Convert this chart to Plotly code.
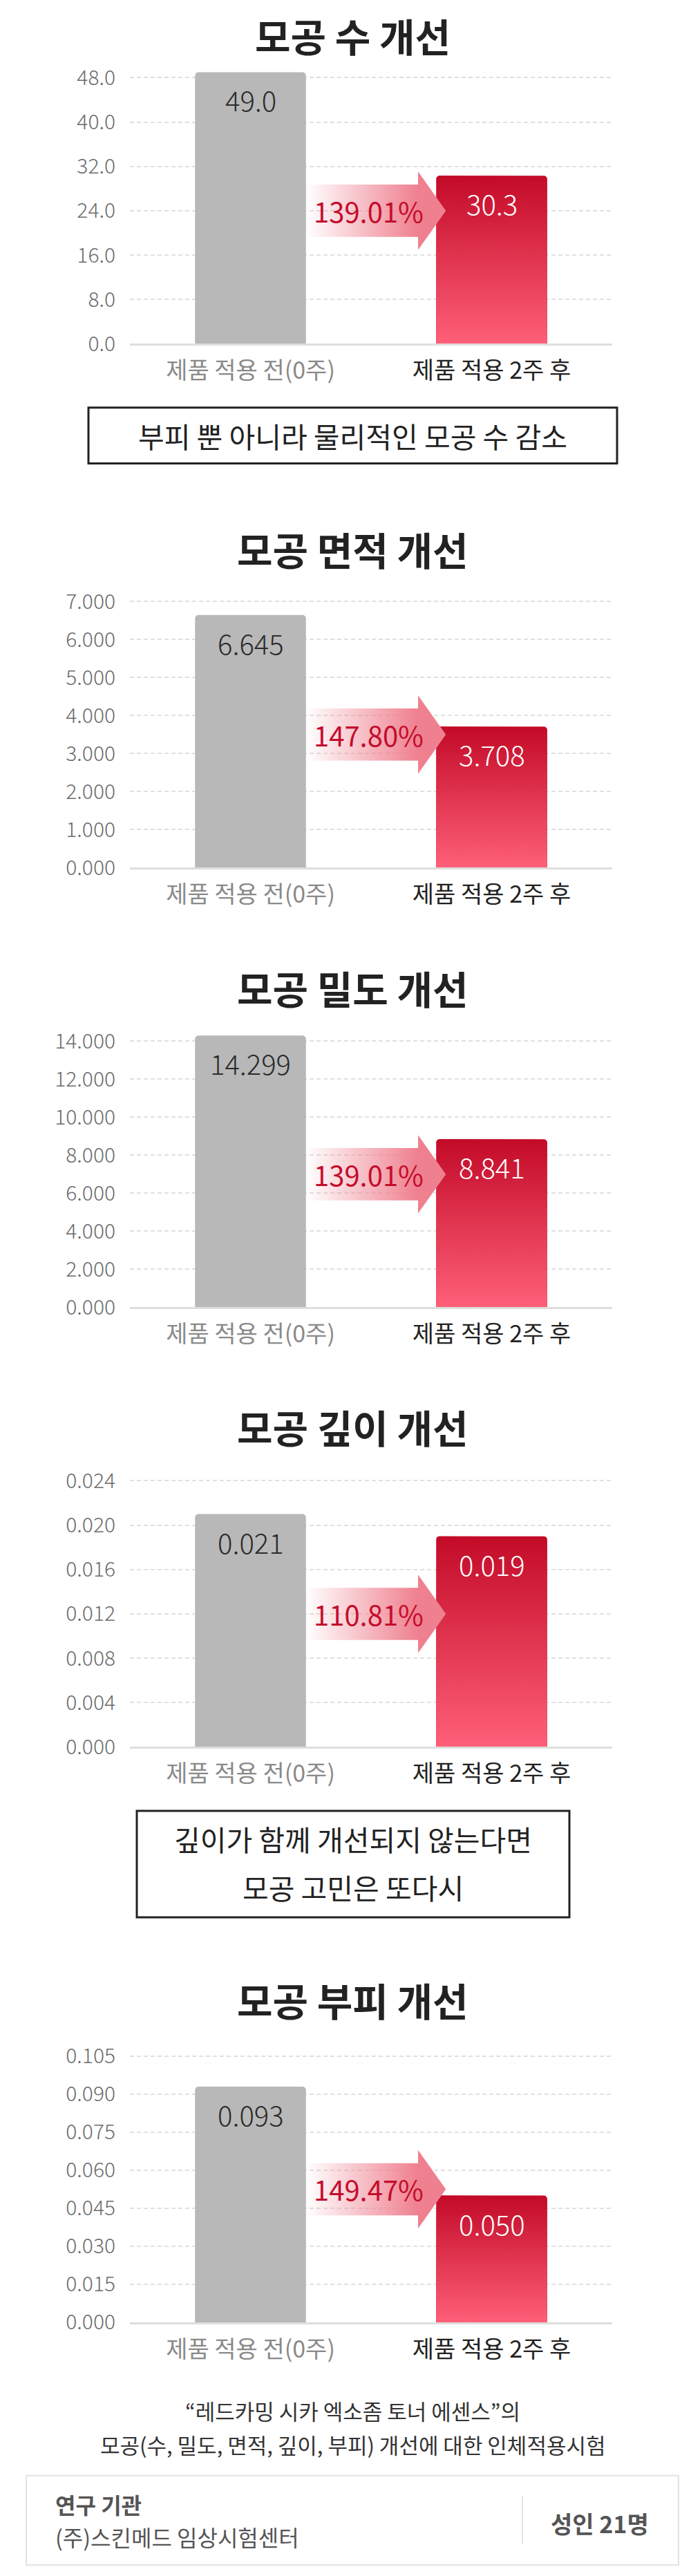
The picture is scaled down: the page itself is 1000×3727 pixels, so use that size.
import math
import plotly.graph_objects as go

W, H = 1000, 3727
FONT = "Noto Sans CJK KR, Noto Sans, sans-serif"

# ---------------- data ----------------
titles = ["모공 수 개선", "모공 면적 개선", "모공 밀도 개선", "모공 깊이 개선", "모공 부피 개선"]
categories = ["제품 적용 전(0주)", "제품 적용 2주 후"]
before_values = [49.0, 6.645, 14.299, 0.021, 0.093]
after_values = [30.3, 3.708, 8.841, 0.019, 0.050]
improvement_labels = ["139.01%", "147.80%", "139.01%", "110.81%", "149.47%"]
tick_tops = [48.0, 7.0, 14.0, 0.024, 0.105]
tick_steps = [8.0, 1.0, 2.0, 0.004, 0.015]
tick_decimals = [1, 3, 3, 3, 3]
callout_1 = "부피 뿐 아니라 물리적인 모공 수 감소"
callout_2 = ["깊이가 함께 개선되지 않는다면", "모공 고민은 또다시"]
footnote_lines = ["“레드카밍 시카 엑소좀 토너 에센스”의",
                  "모공(수, 밀도, 면적, 깊이, 부피) 개선에 대한 인체적용시험"]
info_label = "연구 기관"
info_org = "(주)스킨메드 임상시험센터"
info_subjects = "성인 21명"

# ---------------- layout (pixels) ----------------
baselines = [492, 1254, 1893.5, 2533, 3370]
title_ys = [None, 790, 1428, 2067, 2900]   # first title is pinned to the top edge
SPAN = 387.0          # pixel height from 0 to top tick
HEAD = 1.08           # range headroom over top tick
X_LEFT, X_RIGHT = 180, 878
BAR_W = 0.46
CAT_COLORS = ["#8a8a8a", "#222222"]

GRAY = "#b8b8b8"
RED_TOP = "#c30b28"
RED_BOT = "#ff6079"
PINK = "239,128,143"


def py(px):
    return 1 - px / H


def px_x(px):
    return px / W


fig = go.Figure()
annotations = []
shapes = []
layout_axes = {}

for i in range(5):
    n = i + 1
    xa, ya = (f"x{n}", f"y{n}") if n > 1 else ("x", "y")
    xkey, ykey = (f"xaxis{n}", f"yaxis{n}") if n > 1 else ("xaxis", "yaxis")
    top = tick_tops[i]
    step = tick_steps[i]
    dec = tick_decimals[i]
    b, a = before_values[i], after_values[i]
    base = baselines[i]
    unit_px = SPAN / top

    # bars
    fig.add_trace(go.Bar(
        x=[0, 1], y=[b, a], width=BAR_W,
        marker=dict(color=[GRAY, RED_TOP], cornerradius=5, line=dict(width=0)),
        xaxis=xa, yaxis=ya, hoverinfo="skip", showlegend=False,
    ))

    # gradient overlay on red bar (computed from the value and bar width)
    x0, x1 = 1 - BAR_W / 2, 1 + BAR_W / 2
    rx = 5 / ((X_RIGHT - X_LEFT) / 2)
    ry = 5 / unit_px
    xs, ys = [x0, x0], [0, a - ry]
    for k in range(1, 7):
        t = math.pi - k * (math.pi / 2) / 6
        xs.append(x0 + rx + rx * math.cos(t))
        ys.append(a - ry + ry * math.sin(t))
    xs.append(x1 - rx); ys.append(a)
    for k in range(1, 7):
        t = math.pi / 2 - k * (math.pi / 2) / 6
        xs.append(x1 - rx + rx * math.cos(t))
        ys.append(a - ry + ry * math.sin(t))
    xs += [x1, x0]; ys += [0, 0]
    fig.add_trace(go.Scatter(
        x=xs, y=ys, mode="lines", fill="toself",
        line=dict(width=0, color="rgba(0,0,0,0)"),
        fillgradient=dict(type="vertical", start=0, stop=a,
                          colorscale=[[0, RED_BOT], [1, RED_TOP]]),
        xaxis=xa, yaxis=ya, hoverinfo="skip", showlegend=False,
    ))

    # arrow
    c = top / 2
    bh = 38 / unit_px
    hh = 57 / unit_px
    ax0 = BAR_W / 2
    hx = 0.695
    tip = 0.81
    fig.add_trace(go.Scatter(
        x=[ax0, hx, hx, tip, hx, hx, ax0, ax0],
        y=[c - bh, c - bh, c - hh, c, c + hh, c + bh, c + bh, c - bh],
        mode="lines", fill="toself",
        line=dict(width=0, color="rgba(0,0,0,0)"),
        fillgradient=dict(type="horizontal", start=ax0, stop=hx,
                          colorscale=[[0, f"rgba({PINK},0)"], [1, f"rgba({PINK},1)"]]),
        xaxis=xa, yaxis=ya, hoverinfo="skip", showlegend=False,
    ))

    annotations.append(dict(
        x=0.49, y=c, xref=xa, yref=ya, text=improvement_labels[i], showarrow=False,
        font=dict(family=FONT, size=40, color="#c40d2c"), xanchor="center", yanchor="middle",
    ))

    fmt = f"{{:.{dec}f}}"
    annotations.append(dict(
        x=0, y=b, xref=xa, yref=ya, text=fmt.format(b), showarrow=False, yshift=-40,
        font=dict(family=FONT, size=40, color="#2b2b2b", weight=300),
        xanchor="center", yanchor="middle",
    ))
    annotations.append(dict(
        x=1, y=a, xref=xa, yref=ya, text=fmt.format(a), showarrow=False, yshift=-40,
        font=dict(family=FONT, size=40, color="#ffffff", weight=300),
        xanchor="center", yanchor="middle",
    ))

    # title
    if title_ys[i] is None:
        annotations.append(dict(
            x=0.502, y=1, xref="paper", yref="paper", text=f"<b>{titles[i]}</b>",
            showarrow=False, font=dict(family=FONT, size=56, color="#222222"),
            xanchor="center", yanchor="top",
        ))
    else:
        annotations.append(dict(
            x=0.502, y=py(title_ys[i]), xref="paper", yref="paper", text=f"<b>{titles[i]}</b>",
            showarrow=False, font=dict(family=FONT, size=56, color="#222222"),
            xanchor="center", yanchor="middle",
        ))

    nt = int(round(top / step))
    tickvals = [round(k * step, 6) for k in range(nt + 1)]
    ticktext = [fmt.format(v) for v in tickvals]

    layout_axes[xkey] = dict(
        domain=[px_x(X_LEFT), px_x(X_RIGHT)], anchor=ya, range=[-0.5, 1.5],
        tickvals=[0, 1],
        ticktext=[f"<span style='color:{CAT_COLORS[k]}'>{categories[k]}</span>" for k in range(2)],
        tickfont=dict(family=FONT, size=34), ticks="", ticklabelstandoff=7,
        showline=True, linecolor="#dedede", linewidth=3, showgrid=False, zeroline=False,
        fixedrange=True,
    )
    layout_axes[ykey] = dict(
        domain=[py(base), py(base - SPAN * HEAD)], anchor=xa, range=[0, top * HEAD],
        tickvals=tickvals, ticktext=ticktext,
        tickfont=dict(family=FONT, size=30, color="#6b6b6b", weight=300),
        ticks="", ticklabelstandoff=20,
        showgrid=True, gridcolor="#e0e0e0", gridwidth=2, griddash="6px,4px",
        zeroline=False, showline=False, fixedrange=True,
    )

# callout boxes
shapes.append(dict(type="rect", xref="paper", yref="paper",
                   x0=px_x(120), x1=px_x(885), y0=py(666), y1=py(585),
                   line=dict(color="#222222", width=3)))
annotations.append(dict(x=px_x(502), y=py(625), xref="paper", yref="paper", text=callout_1,
                        showarrow=False, font=dict(family=FONT, size=41, color="#222222"),
                        xanchor="center", yanchor="middle"))
shapes.append(dict(type="rect", xref="paper", yref="paper",
                   x0=px_x(190), x1=px_x(816), y0=py(2781), y1=py(2626),
                   line=dict(color="#222222", width=3)))
for txt, yy in zip(callout_2, [2666, 2737]):
    annotations.append(dict(x=px_x(503), y=py(yy), xref="paper", yref="paper", text=txt,
                            showarrow=False, font=dict(family=FONT, size=41, color="#222222"),
                            xanchor="center", yanchor="middle"))

# footnote
for txt, yy in zip(footnote_lines, [3498, 3548]):
    annotations.append(dict(x=px_x(502), y=py(yy), xref="paper", yref="paper", text=txt,
                            showarrow=False, font=dict(family=FONT, size=31, color="#333333"),
                            xanchor="center", yanchor="middle"))

# info box
shapes.append(dict(type="rect", xref="paper", yref="paper",
                   x0=px_x(30), x1=px_x(974), y0=py(3723), y1=py(3593),
                   line=dict(color="#e2e2e2", width=2)))
shapes.append(dict(type="line", xref="paper", yref="paper",
                   x0=px_x(748), x1=px_x(748), y0=py(3692), y1=py(3623),
                   line=dict(color="#dddddd", width=1.5)))
annotations.append(dict(x=px_x(70), y=py(3635), xref="paper", yref="paper", text=f"<b>{info_label}</b>",
                        showarrow=False, font=dict(family=FONT, size=32, color="#555555"),
                        xanchor="left", yanchor="middle"))
annotations.append(dict(x=px_x(70), y=py(3682), xref="paper", yref="paper", text=info_org,
                        showarrow=False, font=dict(family=FONT, size=32, color="#555555"),
                        xanchor="left", yanchor="middle"))
annotations.append(dict(x=px_x(860), y=py(3662), xref="paper", yref="paper", text=f"<b>{info_subjects}</b>",
                        showarrow=False, font=dict(family=FONT, size=34, color="#555555"),
                        xanchor="center", yanchor="middle"))

fig.update_layout(
    width=W, height=H, margin=dict(l=0, r=0, t=0, b=0),
    paper_bgcolor="white", plot_bgcolor="white",
    showlegend=False, barmode="overlay",
    annotations=annotations, shapes=shapes,
    font=dict(family=FONT),
    **layout_axes,
)

fig.write_html("out.html", config={"displayModeBar": False, "staticPlot": True})
